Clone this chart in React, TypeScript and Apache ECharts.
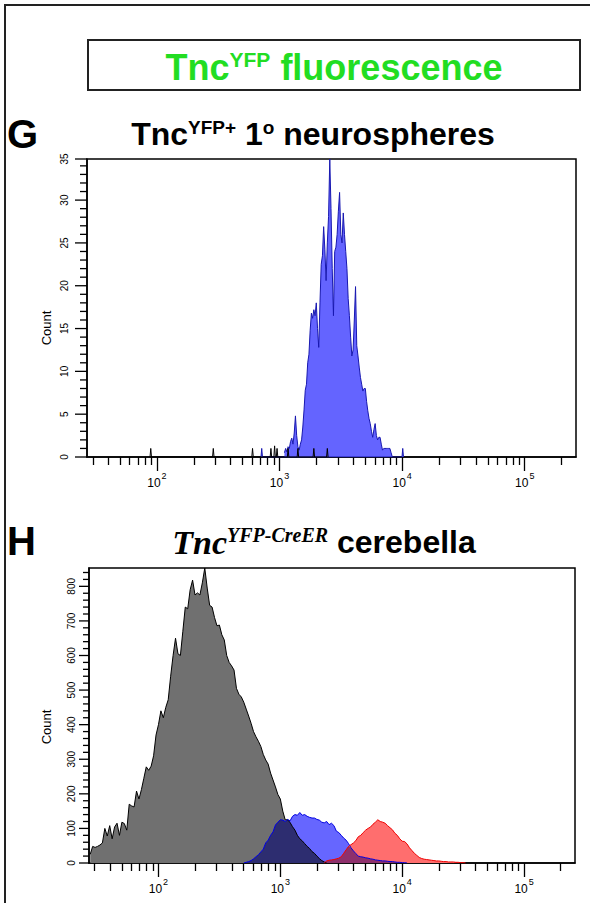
import React, { useEffect, useRef } from 'react';
import * as echarts from 'echarts';

const SANS = '"Liberation Sans", Arial, Helvetica, sans-serif';
const SERIF = '"Liberation Serif", "Times New Roman", serif';

// x axis: log10 of fluorescence
const X_MIN_LOG = 1.43;
const X_MAX_LOG = 5.418;
const X_ANCHOR = 3;
const MAJOR_DECADES = [2, 3, 4, 5];
const MINOR_MULTS = [2, 3, 4, 5, 6, 7, 8, 9];
const MINOR_DECADES = [1, 2, 3, 4, 5];

// ---------- G : TncYFP+ 1° neurospheres ----------
const G_Y_MAX = 34.8;
const G_Y_MAJOR = [0, 5, 10, 15, 20, 25, 30];
const G_Y_MINOR_STEP = 1;
const gBlueStart = 3.04;
const gBlueStep = 0.01;
const gBlueCounts = [
  0.5, 1, 0.6, 1.2, 1, 1.8, 2.2, 1.5, 2.8, 4.8,
  2.5, 1.2, 0.8, 1.5, 2, 3.5, 5.5, 7.8, 8.5, 11,
  12, 14.8, 16.8, 16.2, 17.2, 16.5, 18, 15, 12.8, 18,
  22.5, 23.5, 26.9, 24.2, 20.6, 25, 28.1, 34.8, 29, 22,
  16.5, 24, 24.5, 26, 28.7, 30.9, 26, 25, 28.5, 26,
  24, 22, 18.5, 16.5, 14, 11.8, 12.5, 16, 19.9, 13,
  11.8, 10.5, 9.3, 8.5, 7.7, 8, 8, 6.5, 5.4, 4.5,
  3.9, 3, 2.3, 3.2, 3.9, 2.5, 2, 2.3, 2.3, 1.5,
  0.8, 1, 1, 1, 1, 1, 1, 0.5, 0,
];
const gBlueSpikeX = [2.855, 4.005];
const gBlueSpikeY = [1, 1];
const gCtrlSpikeX = [1.95, 2.46, 2.78, 2.93, 2.96, 2.98, 3.07, 3.15, 3.28, 3.39];
const gCtrlSpikeY = [1, 1, 1, 1, 1.3, 1, 1, 1, 1, 1];

// ---------- H : TncYFP-CreER cerebella ----------
const H_Y_MAX = 853;
const H_Y_MAJOR = [0, 100, 200, 300, 400, 500, 600, 700, 800];
const H_Y_MINOR_STEP = 20;
const hStep = 0.02;
const hGrayStart = 1.44;
const hGrayCounts = [
  25, 48, 45, 48, 52, 58, 100, 78, 108, 70,
  104, 115, 80, 118, 114, 95, 170, 165, 162, 208,
  185, 212, 245, 278, 268, 280, 310, 370, 400, 440,
  420, 450, 472, 540, 600, 650, 605, 600, 670, 740,
  735, 790, 818, 775, 781, 775, 810, 853, 795, 745,
  740, 710, 686, 688, 660, 645, 600, 580, 570, 558,
  505, 488, 480, 465, 445, 425, 404, 380, 365, 352,
  337, 314, 298, 286, 260, 240, 220, 198, 185, 150,
  125, 125, 117, 105, 95, 80, 70, 64, 56, 48,
  42, 33, 28, 20, 13, 7, 3, 0,
];
const hBlueStart = 2.7;
const hBlueCounts = [
  0, 2, 4, 7, 12, 18, 24, 32, 40, 58,
  66, 80, 90, 110, 118, 125, 124, 120, 126, 122,
  135, 140, 138, 146, 138, 140, 135, 132, 130, 130,
  126, 124, 118, 116, 120, 111, 115, 108, 92, 88,
  80, 72, 66, 56, 44, 35, 27, 20, 18, 17,
  15, 14, 12, 11, 9, 8, 7, 6, 6, 5,
  4, 4, 3, 2, 2, 1, 1, 0,
];
const hRedStart = 3.36;
const hRedCounts = [
  0, 6, 8, 9, 10, 12, 14, 18, 28, 38,
  48, 53, 58, 65, 76, 80, 88, 95, 100, 104,
  112, 118, 125, 120, 118, 115, 108, 102, 96, 86,
  80, 70, 63, 62, 55, 44, 36, 28, 22, 16,
  13, 11, 10, 9, 8, 7, 6, 6, 5, 4,
  4, 3, 3, 3, 2, 2, 1, 1, 0,
];

// ---------- helpers ----------
const toPairs = (start: number, step: number, counts: number[]) =>
  counts.map((c, i) => [+(start + i * step).toFixed(4), c]);

const spikes = (xs: number[], ys: number[], hw = 0.006) => {
  const out: number[][] = [];
  xs.forEach((x, i) => {
    out.push([x - hw, 0], [x, ys[i]], [x + hw, 0]);
  });
  return out;
};

const valueAt = (start: number, counts: number[], x: number) => {
  const i = Math.round((x - start) / hStep);
  return i >= 0 && i < counts.length ? counts[i] : 0;
};

const overlap = (aStart: number, a: number[], bStart: number, b: number[]) => {
  const out: number[][] = [];
  a.forEach((c, i) => {
    const x = +(aStart + i * hStep).toFixed(4);
    out.push([x, Math.min(c, valueAt(bStart, b, x))]);
  });
  return out;
};

const minorXTicks: number[] = [];
MINOR_DECADES.forEach((d) =>
  MINOR_MULTS.forEach((k) => {
    const v = Math.log10(k * Math.pow(10, d));
    if (v > X_MIN_LOG && v < X_MAX_LOG) minorXTicks.push(+v.toFixed(5));
  })
);

const minorYTicks = (max: number, step: number, majors: number[]) => {
  const out: number[] = [];
  for (let v = step; v < max; v += step) {
    const r = +v.toFixed(4);
    if (!majors.includes(r)) out.push(r);
  }
  return out;
};

const TICK_STYLE = { color: '#000', width: 1.3 };

const xAxesFor = (gridIndex: number) => [
  {
    gridIndex,
    type: 'value',
    min: X_MIN_LOG,
    max: X_MAX_LOG,
    position: 'bottom',
    axisLine: { show: true, onZero: false, lineStyle: { color: '#000', width: 1.5 } },
    axisTick: { show: true, customValues: MAJOR_DECADES, length: 14, lineStyle: TICK_STYLE },
    axisLabel: {
      show: true,
      customValues: MAJOR_DECADES,
      margin: 14,
      formatter: (v: number) => `{b|10}{s|${Math.round(v)}}`,
      rich: {
        b: { fontSize: 12, fontFamily: SANS, color: '#000', lineHeight: 24 },
        s: { fontSize: 9, fontFamily: SANS, color: '#000', lineHeight: 9, verticalAlign: 'top', padding: [0, 0, 0, 1] },
      },
    },
    splitLine: { show: false },
  },
  {
    gridIndex,
    type: 'value',
    min: X_MIN_LOG,
    max: X_MAX_LOG,
    position: 'bottom',
    axisLine: { show: false, onZero: false },
    axisTick: { show: true, customValues: minorXTicks, length: 8, lineStyle: TICK_STYLE },
    axisLabel: { show: false },
    splitLine: { show: false },
  },
];

const yAxisFor = (gridIndex: number, max: number, majors: number[], margin: number, labelMax: boolean) => ({
  gridIndex,
  type: 'value',
  min: 0,
  max,
  position: 'left',
  axisLine: { show: true, onZero: false, lineStyle: { color: '#000', width: 1.5 } },
  axisTick: { show: false },
  axisLabel: {
    show: true,
    customValues: labelMax ? [...majors, max] : majors,
    rotate: 90,
    margin,
    fontSize: 10,
    fontFamily: SANS,
    color: '#000',
    formatter: (v: number) => String(Math.round(v)),
  },
  splitLine: { show: false },
});

// y-axis ticks placed through the axis scales with custom series:
// each item is [x anchor inside the axis range, tick value]; one series per tick length
const yTickSeries = (name: string, xi: number, yi: number, values: number[], len: number) => ({
  name,
  type: 'custom',
  xAxisIndex: xi,
  yAxisIndex: yi,
  clip: false,
  z: 10,
  data: values.map((v) => [X_ANCHOR, v]),
  renderItem: (_params: any, api: any) => {
    const p = api.coord([X_MIN_LOG, api.value(1)]);
    return {
      type: 'rect',
      shape: { x: p[0] - len, y: p[1] - 0.65, width: len, height: 1.3 },
      style: { fill: '#000' },
    };
  },
});

const area = (name: string, data: number[][], xi: number, yi: number, fill: string, z: number) => ({
  name,
  type: 'line',
  xAxisIndex: xi,
  yAxisIndex: yi,
  data,
  symbol: 'none',
  lineStyle: { width: 0, opacity: 0 },
  areaStyle: { color: fill, opacity: 1 },
  z,
  silent: true,
});

const outline = (name: string, data: number[][], xi: number, yi: number, color: string, z: number) => ({
  name,
  type: 'line',
  xAxisIndex: xi,
  yAxisIndex: yi,
  data,
  symbol: 'none',
  lineStyle: { width: 1, color },
  z,
  silent: true,
});

const GREEN = '#22dd22';

export default function App() {
  const ref = useRef<HTMLDivElement>(null);

  useEffect(() => {
    if (!ref.current) return;
    const chart = echarts.init(ref.current, null, { renderer: 'svg' });

    const gBlue = toPairs(gBlueStart, gBlueStep, gBlueCounts);
    const gBlueSp = spikes(gBlueSpikeX, gBlueSpikeY);
    const gCtrl = spikes(gCtrlSpikeX, gCtrlSpikeY);

    const hGray = toPairs(hGrayStart, hStep, hGrayCounts);
    const hBlue = toPairs(hBlueStart, hStep, hBlueCounts);
    const hRed = toPairs(hRedStart, hStep, hRedCounts);
    const hGrayBlue = overlap(hBlueStart, hBlueCounts, hGrayStart, hGrayCounts);
    const hBlueRed = overlap(hRedStart, hRedCounts, hBlueStart, hBlueCounts);

    const option: any = {
      animation: false,
      backgroundColor: '#fff',
      grid: [
        { left: 87, top: 159, right: 14, bottom: 446, show: true, borderColor: '#000', borderWidth: 1.5 },
        { left: 89, top: 568, right: 15, bottom: 40, show: true, borderColor: '#000', borderWidth: 1.5 },
      ],
      xAxis: [...xAxesFor(0), ...xAxesFor(1)],
      yAxis: [yAxisFor(0, G_Y_MAX, G_Y_MAJOR, 18, true), yAxisFor(1, H_Y_MAX, H_Y_MAJOR, 13, false)],
      series: [
        // G
        area('G YFP+ fill', gBlue, 0, 0, '#6464ff', 2),
        area('G YFP+ spikes fill', gBlueSp, 0, 0, '#6464ff', 2),
        outline('G YFP+', gBlue, 0, 0, '#1818b0', 3),
        outline('G YFP+ spikes', gBlueSp, 0, 0, '#1818b0', 3),
        outline('G control', gCtrl, 0, 0, '#000', 4),
        yTickSeries('G y major ticks', 0, 0, [...G_Y_MAJOR, G_Y_MAX], 12),
        yTickSeries('G y minor ticks', 0, 0, minorYTicks(G_Y_MAX, G_Y_MINOR_STEP, G_Y_MAJOR), 7),
        // H
        area('H gray fill', hGray, 2, 1, '#707070', 2),
        area('H blue fill', hBlue, 2, 1, '#6666ff', 2),
        area('H gray-blue overlap', hGrayBlue, 2, 1, '#2d2d70', 2),
        area('H red fill', hRed, 2, 1, '#ff6e6e', 2),
        area('H blue-red overlap', hBlueRed, 2, 1, '#8e306c', 2),
        outline('H gray', hGray, 2, 1, '#000', 3),
        outline('H blue', hBlue, 2, 1, '#0000e0', 3),
        outline('H red', hRed, 2, 1, '#ee0000', 3),
        yTickSeries('H y major ticks', 2, 1, H_Y_MAJOR, 10),
        yTickSeries('H y minor ticks', 2, 1, minorYTicks(H_Y_MAX, H_Y_MINOR_STEP, H_Y_MAJOR), 6),
      ],
      graphic: [
        { type: 'polyline', shape: { points: [[5, 903], [5, 5], [590, 5]] }, style: { stroke: '#222', lineWidth: 2, fill: null } },
        { type: 'rect', shape: { x: 88, y: 40, width: 492, height: 50 }, style: { stroke: '#222', lineWidth: 2, fill: null } },
        {
          type: 'text',
          x: 334,
          y: 67,
          style: {
            text: '{a|Tnc}{s|YFP}{a| fluorescence}',
            align: 'center',
            verticalAlign: 'middle',
            fill: GREEN,
            rich: {
              a: { fontSize: 36, fontWeight: 'bold', fontFamily: SANS, fill: GREEN },
              s: { fontSize: 21, fontWeight: 'bold', fontFamily: SANS, fill: GREEN, verticalAlign: 'top' },
            },
          },
        },
        { type: 'text', x: 7, y: 134, style: { text: 'G', fontSize: 40, fontWeight: 'bold', fontFamily: SANS, fill: '#000', verticalAlign: 'middle' } },
        {
          type: 'text',
          x: 313,
          y: 134,
          style: {
            text: '{a|Tnc}{s|YFP+}{a| 1}{s|o}{a| neurospheres}',
            align: 'center',
            verticalAlign: 'middle',
            fill: '#000',
            rich: {
              a: { fontSize: 32, fontWeight: 'bold', fontFamily: SANS, fill: '#000' },
              s: { fontSize: 19, fontWeight: 'bold', fontFamily: SANS, fill: '#000', verticalAlign: 'top' },
            },
          },
        },
        { type: 'text', x: 7, y: 541, style: { text: 'H', fontSize: 40, fontWeight: 'bold', fontFamily: SANS, fill: '#000', verticalAlign: 'middle' } },
        {
          type: 'text',
          x: 324,
          y: 542,
          style: {
            text: '{i|Tnc}{s|YFP-CreER}{a| cerebella}',
            align: 'center',
            verticalAlign: 'middle',
            fill: '#000',
            rich: {
              i: { fontSize: 34, fontWeight: 'bold', fontStyle: 'italic', fontFamily: SERIF, fill: '#000' },
              s: { fontSize: 20, fontWeight: 'bold', fontStyle: 'italic', fontFamily: SERIF, fill: '#000', verticalAlign: 'top' },
              a: { fontSize: 32, fontWeight: 'bold', fontFamily: SANS, fill: '#000' },
            },
          },
        },
        { type: 'text', x: 46, y: 328, rotation: Math.PI / 2, style: { text: 'Count', fontSize: 13, fontFamily: SANS, fill: '#000', align: 'center', verticalAlign: 'middle' } },
        { type: 'text', x: 46, y: 727, rotation: Math.PI / 2, style: { text: 'Count', fontSize: 13, fontFamily: SANS, fill: '#000', align: 'center', verticalAlign: 'middle' } },
      ],
    };

    chart.setOption(option);
    return () => chart.dispose();
  }, []);

  return (
    <div
      ref={ref}
      style={{ position: 'absolute', left: 0, top: 0, width: 590, height: 903, background: '#fff' }}
    />
  );
}
